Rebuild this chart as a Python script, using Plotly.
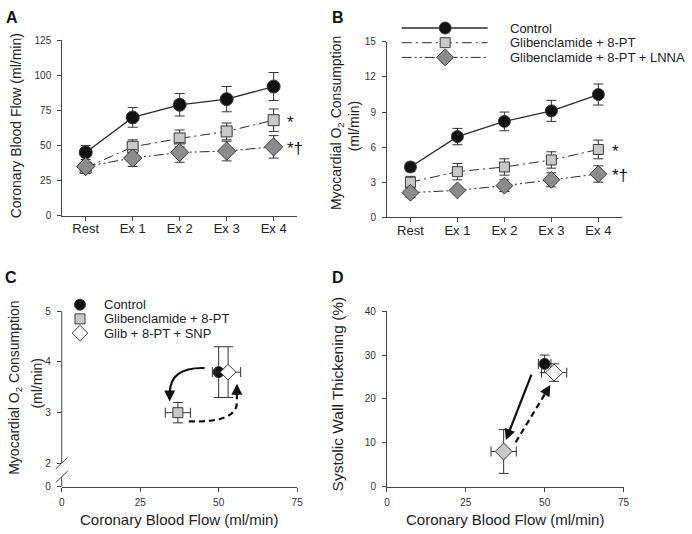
import plotly.graph_objects as go

# ---------------- data ----------------
categories = ["Rest", "Ex 1", "Ex 2", "Ex 3", "Ex 4"]

cbf_control = [45, 70, 79, 83, 92]
cbf_control_err = [5, 7, 8, 9, 10]
cbf_glib = [34, 49, 55, 60, 68]
cbf_glib_err = [4, 5, 6, 6, 8]
cbf_lnna = [35, 41, 45, 46, 49]
cbf_lnna_err = [3, 6, 7, 7, 8]

mvo2_control = [4.3, 6.9, 8.2, 9.1, 10.5]
mvo2_control_err = [0.4, 0.7, 0.8, 0.9, 0.9]
mvo2_glib = [3.0, 3.9, 4.3, 4.9, 5.8]
mvo2_glib_err = [0.5, 0.7, 0.7, 0.7, 0.8]
mvo2_lnna = [2.1, 2.3, 2.7, 3.2, 3.7]
mvo2_lnna_err = [0.4, 0.25, 0.5, 0.6, 0.7]

ab_legend = ["Control", "Glibenclamide + 8-PT", "Glibenclamide + 8-PT + LNNA"]
cd_legend = ["Control", "Glibenclamide + 8-PT", "Glib + 8-PT + SNP"]

c_cbf = [50, 37, 53]
c_cbf_err = [2, 4, 4]
c_mvo2 = [3.8, 3.0, 3.8]
c_mvo2_err = [0.5, 0.2, 0.5]

d_cbf = [50, 37, 53]
d_cbf_err = [2, 4, 4]
d_swt = [28, 8, 26]
d_swt_err = [2, 5, 2]

a_ticks = [0, 25, 50, 75, 100, 125]
b_ticks = [0, 3, 6, 9, 12, 15]
c_yticks = ["0", "2", "3", "4", "5"]
cd_xticks = [0, 25, 50, 75]
d_yticks = [0, 10, 20, 30, 40]

# ---------------- layout helpers ----------------
W, H = 692, 534
FONT = "Liberation Sans, Arial, sans-serif"
TXT = "#222222"
AX = "#444444"


def fx(px):
    return px / W


def fy(px):
    return 1 - px / H


C_BLACK = "#111111"
C_GLIB = "#c8c8c8"
C_LNNA = "#8c8c8c"
EDGE = "#3a3a3a"
DASH_GLIB = "10px,4px,2px,4px"
DASH_LNNA = "10px,3px,2px,3px,2px,3px"

err_style = dict(type="data", color="#333333", thickness=1, width=5, visible=True)

fig = go.Figure()


def add_series(x, y, err, xa, ya, symbol, size, color, dash, lw):
    fig.add_trace(go.Scatter(
        x=x, y=y, xaxis=xa, yaxis=ya, mode="lines+markers",
        error_y=dict(array=err, **err_style),
        line=dict(color="#2a2a2a", width=lw, dash=dash),
        marker=dict(symbol=symbol, size=size, color=color, line=dict(color=EDGE, width=1)),
        showlegend=False, cliponaxis=False,
    ))


# Panel A
add_series(categories, cbf_control, cbf_control_err, "x", "y", "circle", 13, C_BLACK, "solid", 1.3)
add_series(categories, cbf_glib, cbf_glib_err, "x", "y", "square", 11, C_GLIB, DASH_GLIB, 1)
add_series(categories, cbf_lnna, cbf_lnna_err, "x", "y", "diamond", 14, C_LNNA, DASH_LNNA, 1)
# Panel B
add_series(categories, mvo2_control, mvo2_control_err, "x2", "y2", "circle", 12, C_BLACK, "solid", 1.3)
add_series(categories, mvo2_glib, mvo2_glib_err, "x2", "y2", "square", 10, C_GLIB, DASH_GLIB, 1)
add_series(categories, mvo2_lnna, mvo2_lnna_err, "x2", "y2", "diamond", 13, C_LNNA, DASH_LNNA, 1)

# Panel C and D points
C_BREAK = 1.543  # position of the "0" tick below the axis break
c_symbols = ["circle", "square", "diamond"]
c_sizes = [11, 10, 12]
c_colors = [C_BLACK, C_GLIB, "#ffffff"]
for i in [0, 1, 2]:
    fig.add_trace(go.Scatter(
        x=[c_cbf[i]], y=[c_mvo2[i]], xaxis="x3", yaxis="y3", mode="markers",
        error_x=dict(array=[c_cbf_err[i]], **err_style),
        error_y=dict(array=[c_mvo2_err[i]], **err_style),
        marker=dict(symbol=c_symbols[i], size=c_sizes[i], color=c_colors[i],
                    line=dict(color=EDGE, width=1)),
        showlegend=False, cliponaxis=False,
    ))
d_symbols = ["circle", "diamond", "diamond"]
d_sizes = [11, 13, 13]
d_colors = [C_BLACK, C_GLIB, "#ffffff"]
for i in [0, 1, 2]:
    fig.add_trace(go.Scatter(
        x=[d_cbf[i]], y=[d_swt[i]], xaxis="x4", yaxis="y4", mode="markers",
        error_x=dict(array=[d_cbf_err[i]], **err_style),
        error_y=dict(array=[d_swt_err[i]], **err_style),
        marker=dict(symbol=d_symbols[i], size=d_sizes[i], color=d_colors[i],
                    line=dict(color=EDGE, width=1)),
        showlegend=False, cliponaxis=False,
    ))

# ---------------- custom legends (overlay pixel axis x5/y5) ----------------
leg_rows = [23.5, 38.5, 53.5]
leg_sym = [("circle", 12, C_BLACK, "solid", 1.3), ("square", 10, C_GLIB, DASH_GLIB, 1),
           ("diamond", 13, C_LNNA, DASH_LNNA, 1)]
for row, (sym, sz, col, dash, lw) in zip(leg_rows, leg_sym):
    fig.add_trace(go.Scatter(x=[404, 491], y=[row, row], xaxis="x5", yaxis="y5", mode="lines",
                             line=dict(color="#2a2a2a", width=lw, dash=dash),
                             showlegend=False, hoverinfo="skip"))
    fig.add_trace(go.Scatter(x=[448], y=[row], xaxis="x5", yaxis="y5", mode="markers",
                             marker=dict(symbol=sym, size=sz, color=col, line=dict(color=EDGE, width=1)),
                             showlegend=False, hoverinfo="skip"))
c_leg_rows = [306, 320.5, 335]
for i, row in enumerate(c_leg_rows):
    fig.add_trace(go.Scatter(x=[78], y=[row], xaxis="x5", yaxis="y5", mode="markers",
                             marker=dict(symbol=c_symbols[i], size=c_sizes[i], color=c_colors[i],
                                         line=dict(color=EDGE, width=1)),
                             showlegend=False, hoverinfo="skip"))

annotations = []
for row, name in zip(leg_rows, ab_legend):
    annotations.append(dict(x=512, y=row, xref="x5", yref="y5", text=name, showarrow=False,
                            xanchor="left", yanchor="middle", font=dict(size=13, color=TXT)))
for row, name in zip(c_leg_rows, cd_legend):
    annotations.append(dict(x=100, y=row, xref="x5", yref="y5", text=name, showarrow=False,
                            xanchor="left", yanchor="middle", font=dict(size=13, color=TXT)))

# panel letters
for letter, px, py in [("A", 9, 13), ("B", 339, 13), ("C", 8, 278), ("D", 339, 278)]:
    annotations.append(dict(x=fx(px), y=fy(py), xref="paper", yref="paper", text="<b>%s</b>" % letter,
                            showarrow=False, xanchor="center", yanchor="middle",
                            font=dict(size=16, color="#111111")))

# axis titles
def ytitle(text, px, py, size):
    annotations.append(dict(x=fx(px), y=fy(py), xref="paper", yref="paper", text=text, textangle=-90,
                            showarrow=False, xanchor="center", yanchor="middle",
                            font=dict(size=size, color=TXT)))


O2_TITLE = "Myocardial O<sub>2</sub> Consumption"
ytitle("Coronary Blood Flow (ml/min)", 14, 123, 14)
ytitle(O2_TITLE, 338, 121, 14)
ytitle("(ml/min)", 356, 123.5, 14)
ytitle(O2_TITLE, 12, 391, 14)
ytitle("(ml/min)", 34, 386, 14)
ytitle("Systolic Wall Thickening (%)", 339, 397, 15.5)
for cx in [178, 509]:
    annotations.append(dict(x=fx(cx), y=fy(525), xref="paper", yref="paper",
                            text="Coronary Blood Flow (ml/min)", showarrow=False,
                            xanchor="center", yanchor="middle", font=dict(size=15, color=TXT)))

# significance marks
for xa, ya, yv, txt in [("x", "y", cbf_glib[4], "*"), ("x", "y", cbf_lnna[4], "*†"),
                        ("x2", "y2", mvo2_glib[4], "*"), ("x2", "y2", mvo2_lnna[4], "*†")]:
    annotations.append(dict(x=4.25, y=yv, xref=xa, yref=ya, text=txt, showarrow=False,
                            xanchor="left", yanchor="middle", yshift=-2,
                            font=dict(size=17, color="#111111", family="Liberation Sans")))

# arrowheads
ARW = dict(showarrow=True, arrowhead=2, arrowsize=1.0, arrowwidth=2.2, arrowcolor="#111111", text="")
annotations.append(dict(x=34.4, y=3.22, ax=34.4, ay=3.38, xref="x3", yref="y3", axref="x3", ayref="y3", **ARW))
annotations.append(dict(x=55.8, y=3.57, ax=55.8, ay=3.41, xref="x3", yref="y3", axref="x3", ayref="y3", **ARW))
annotations.append(dict(x=37.7, y=10.6, ax=46.0, ay=25.9, xref="x4", yref="y4", axref="x4", ayref="y4", **ARW))
annotations.append(dict(x=51.8, y=23.2, ax=50.5, ay=21.6, xref="x4", yref="y4", axref="x4", ayref="y4", **ARW))

shapes = [
    dict(type="path", xref="x3", yref="y3", path="M 45.5,3.88 Q 34.4,3.9 34.4,3.38",
         line=dict(color="#111111", width=2.2)),
    dict(type="path", xref="x3", yref="y3", path="M 40.5,2.83 Q 55.8,2.8 55.8,3.2 L 55.8,3.41",
         line=dict(color="#111111", width=2.2, dash="6px,4px")),
    dict(type="line", xref="x4", yref="y4", x0=40.8, y0=10.1, x1=50.5, y1=21.6,
         line=dict(color="#111111", width=2.2, dash="6px,4px")),
    # broken y axis of panel C (pixel overlay axis)
    dict(type="line", xref="x5", yref="y5", x0=59.5, y0=312.7, x1=59.5, y1=468, line=dict(color=AX, width=1)),
    dict(type="line", xref="x5", yref="y5", x0=59.5, y0=482, x1=59.5, y1=491.7, line=dict(color=AX, width=1)),
    dict(type="line", xref="x5", yref="y5", x0=53.5, y0=473.5, x1=65.5, y1=462, line=dict(color=AX, width=1)),
    dict(type="line", xref="x5", yref="y5", x0=53.5, y0=487.5, x1=65.5, y1=476, line=dict(color=AX, width=1)),
]

axis_common = dict(showgrid=False, zeroline=False, showline=True, linecolor=AX, linewidth=1,
                   ticks="outside", ticklen=4, tickcolor=AX, tickwidth=1, fixedrange=True)
small = dict(size=10, color="#333333")

fig.update_layout(
    width=W, height=H, margin=dict(l=0, r=0, t=0, b=0),
    paper_bgcolor="white", plot_bgcolor="rgba(0,0,0,0)",
    font=dict(family=FONT, color=TXT), showlegend=False,
    xaxis=dict(domain=[fx(60), fx(298)], anchor="y", type="category", range=[-0.5, 4.5],
               tickfont=dict(size=13, color=TXT), ticklabelstandoff=-3, **axis_common),
    yaxis=dict(domain=[fy(215), fy(36)], anchor="x", range=[0, 125], tickvals=a_ticks,
               tickfont=small, ticklabelstandoff=4, **axis_common),
    xaxis2=dict(domain=[fx(389), fx(627)], anchor="y2", type="category", range=[-0.5, 4.5],
                tickfont=dict(size=13, color=TXT), ticklabelstandoff=-3, **axis_common),
    yaxis2=dict(domain=[fy(216.7), fy(37.7)], anchor="x2", range=[0, 15], tickvals=b_ticks,
                tickfont=small, ticklabelstandoff=4, **axis_common),
    xaxis3=dict(domain=[fx(59.5), fx(298)], anchor="y3", range=[0, 75], tickvals=cd_xticks,
                tickfont=small, ticklabelstandoff=2, **axis_common),
    yaxis3=dict(domain=[fy(491.7), fy(312.7)], anchor="x3", range=[C_BREAK, 5],
                tickvals=[C_BREAK, 2, 3, 4, 5], ticktext=c_yticks,
                tickfont=small, ticklabelstandoff=4,
                **{**axis_common, "showline": False}),
    xaxis4=dict(domain=[fx(389), fx(628.7)], anchor="y4", range=[0, 75], tickvals=cd_xticks,
                tickfont=small, ticklabelstandoff=2, **axis_common),
    yaxis4=dict(domain=[fy(491.7), fy(312.7)], anchor="x4", range=[0, 40], tickvals=d_yticks,
                tickfont=small, ticklabelstandoff=4, **axis_common),
    xaxis5=dict(domain=[0, 1], anchor="y5", range=[0, W], visible=False, fixedrange=True),
    yaxis5=dict(domain=[0, 1], anchor="x5", range=[H, 0], visible=False, fixedrange=True),
    annotations=annotations, shapes=shapes,
)

fig.write_html(
    "out.html",
    config={"displayModeBar": False},
    post_script="document.body.style.margin='0px';document.body.style.overflow='hidden';",
)
